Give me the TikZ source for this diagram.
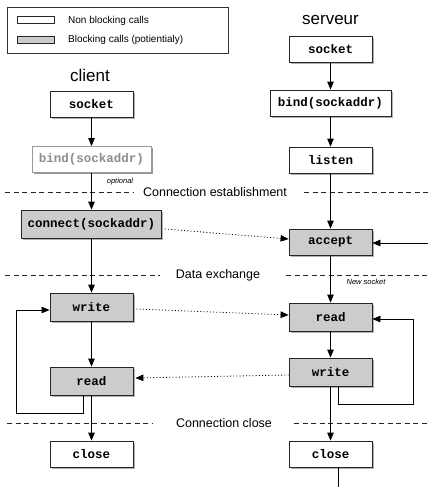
\documentclass[tikz,border=0pt]{standalone}
\usepackage{fontspec}
\setmainfont{Liberation Sans}
\setmonofont{Liberation Mono}
\usetikzlibrary{shadows,arrows.meta,calc}
\begin{document}
\begin{tikzpicture}[x=1pt,y=-1pt,
  shad/.style={drop shadow={shadow xshift=1.5pt,shadow yshift=-1.5pt,fill=black,opacity=0.3}},
  call/.style={draw=black!85, line width=0.8pt, minimum height=26pt, minimum width=83pt, inner sep=0pt,
    font=\ttfamily\bfseries\fontsize{12.5}{14}\selectfont, shad},
  nb/.style={call, fill=white},
  bl/.style={call, fill=black!20},
  arr/.style={-{Triangle[length=8pt,width=6.5pt]}, line width=0.8pt},
  dotarr/.style={arr, dash pattern=on 1pt off 2.2pt},
  sep/.style={dash pattern=on 5pt off 3.5pt, line width=0.8pt, draw=black!85},
  sec/.style={font=\fontsize{12.5}{14}\selectfont, inner sep=0pt},
  ttl/.style={font=\fontsize{17}{20}\selectfont, inner sep=0pt},
  note/.style={font=\itshape\fontsize{7.5}{9}\selectfont, inner sep=0pt},
  leg/.style={font=\fontsize{10}{12}\selectfont, inner sep=0pt, anchor=west},
  swatch/.style={draw=black!85, line width=0.8pt, minimum width=37pt, minimum height=7pt, inner sep=0pt,
    drop shadow={shadow xshift=1pt,shadow yshift=-1pt,fill=black,opacity=0.3}}
]
\useasboundingbox (0,0) rectangle (428,487);
\fill[white] (0,0) rectangle (428,487);

% legend
\node[draw=black!80, line width=0.8pt, minimum width=221pt, minimum height=46pt, inner sep=0pt] (legend) at (117.5,30) {};
\node[swatch, fill=white] (lw) at (35.5,20) {};
\node[swatch, fill=black!20] (lg) at (35.5,39.5) {};
\node[leg] (lwt) at (68,20.5) {Non blocking calls};
\node[leg] (lgt) at (68,40) {Blocking calls (potientialy)};

% titles
\node[ttl] (tc) at (90,75) {client};
\node[ttl] (ts) at (330.5,20) {serveur};

% client column
\node[nb] (cs) at (91.5,104) {socket};
\node[nb, draw=black!40, text=black!45, minimum width=119pt,
  drop shadow={shadow xshift=1.5pt,shadow yshift=-1.5pt,fill=black,opacity=0.15}] (cb) at (91.5,159.5) {bind(sockaddr)};
\node[bl, minimum width=140pt, minimum height=28pt] (cc) at (91.5,224) {connect(sockaddr)};
\node[bl, minimum height=28pt] (cw) at (91.5,307) {write};
\node[bl, minimum height=28pt] (cr) at (91.5,381) {read};
\node[nb] (ccl) at (91.5,454) {close};

% server column
\node[nb] (ss) at (330.5,49.5) {socket};
\node[nb, minimum width=121pt] (sb) at (330.5,103) {bind(sockaddr)};
\node[nb] (sl) at (330.5,160) {listen};
\node[bl] (sa) at (330.5,242) {accept};
\node[bl, minimum height=28pt] (sr) at (330.5,317) {read};
\node[bl, minimum height=28pt] (sw) at (330.5,372) {write};
\node[nb] (scl) at (330.5,454) {close};

% notes
\node[note] (opt) at (120,182) {optional};
\node[note] (ns) at (366,282) {New socket};

% section separators
\node[sec] (l1) at (215,192) {Connection establishment};
\draw[sep] (5,192) -- (133,192);
\draw[sep] (304,192) -- (428,192);
\node[sec] (l2) at (218,275) {Data exchange};
\draw[sep] (5,275) -- (160,275);
\draw[sep] (286,275) -- (428,275);
\node[sec] (l3) at (224,423) {Connection close};
\draw[sep] (7,423) -- (152,423);
\draw[sep] (294,423) -- (428,423);

% client arrows
\draw[arr] (cs) -- (cb);
\draw[arr] (cb) -- (cc);
\draw[arr] (cc) -- (cw);
\draw[arr] (cw) -- (cr);
\draw[arr] (cr) -- (ccl);

% server arrows
\draw[arr] (ss) -- (sb);
\draw[arr] (sb) -- (sl);
\draw[arr] (sl) -- (sa);
\draw[arr] (sa) -- (sr);
\draw[arr] (sr) -- (sw);
\draw[arr] (sw) -- (scl);

% loops
\coordinate (cl1) at (16,413);
\draw[arr] ($(cr.south)+(-8.5,0)$) |- (cl1) |- ($(cw.west)+(0,3)$);
\coordinate (sl1) at (413,404);
\draw[arr] ($(sw.south)+(7.5,0)$) |- (sl1) |- ($(sr.east)+(0,2)$);

% incoming to accept and outgoing from close
\coordinate (ain) at (428,243);
\draw[arr] (ain) -- (sa.east |- ain);
\coordinate (tail) at (338,487);
\draw[line width=0.8pt] ($(scl.south)+(7.5,0)$) -- (tail);

% dotted exchanges
\draw[dotarr] ($(cc.east)+(3,5)$) -- ($(sa.west)+(0,-3)$);
\draw[dotarr] ($(cw.east)+(3,2)$) -- ($(sr.west)+(0,-2)$);
\draw[dotarr] ($(sw.west)+(0,3)$) -- ($(cr.east)+(2,-3)$);
\end{tikzpicture}
\end{document}
